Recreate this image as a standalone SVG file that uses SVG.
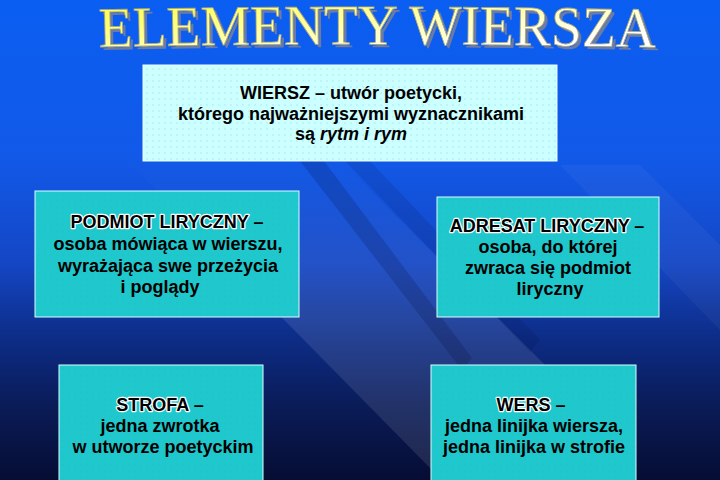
<svg xmlns="http://www.w3.org/2000/svg" width="720" height="480" viewBox="0 0 720 480">
<defs>
<linearGradient id="bg" x1="0" y1="0" x2="0" y2="1">
<stop offset="0" stop-color="#0a5ef2"/>
<stop offset="0.33" stop-color="#1259e8"/>
<stop offset="0.55" stop-color="#1446c4"/>
<stop offset="0.7" stop-color="#0d2d88"/>
<stop offset="0.85" stop-color="#0a1b56"/>
<stop offset="1" stop-color="#060d34"/>
</linearGradient>
<linearGradient id="band" gradientUnits="userSpaceOnUse" x1="0" y1="160" x2="0" y2="320">
<stop offset="0" stop-color="#ffffff" stop-opacity="0"/>
<stop offset="1" stop-color="#ffffff" stop-opacity="0.1"/>
</linearGradient>
<linearGradient id="gold" x1="0" y1="0" x2="1" y2="1">
<stop offset="0" stop-color="#ffff30"/>
<stop offset="0.45" stop-color="#ffffa8"/>
<stop offset="0.8" stop-color="#ffffff"/>
</linearGradient>
<pattern id="dots" width="6" height="6" patternUnits="userSpaceOnUse">
<circle cx="3" cy="3" r="0.7" fill="#4c9cb4" opacity="0.3"/>
</pattern>
<path id="arc" d="M0,47 Q300,41 600,48"/>
<style>
.box{fill:#1ec8cc;stroke:#d8ffff;stroke-width:1}
.top{fill:#ccffff;stroke:#e8ffff;stroke-width:1}
.dot{fill:url(#dots);stroke:none}
.t{font-family:"Liberation Sans",Arial,sans-serif;font-weight:bold;font-size:18px;fill:#000;text-anchor:middle}
.h{stroke:#ffffff;stroke-width:2.4;paint-order:stroke;stroke-linejoin:round}
.title{font-family:"Liberation Serif","Times New Roman",serif;font-size:57px}
</style>
</defs>

<rect x="0" y="0" width="720" height="480" fill="url(#bg)"/>
<g id="stripes">
<polygon points="117,150 330,150 545,365 432,470" fill="url(#band)"/>
<polygon points="300,161 324,161 472,358 462,370" fill="#000020" opacity="0.16"/>
<polygon points="345,161 370,161 540,340 530,352" fill="#000020" opacity="0.1"/>
<polygon points="560,165 640,165 720,245 720,330" fill="#ffffff" opacity="0.04"/>
</g>

<g id="title">
<g transform="translate(102,3) scale(0.974,1)">
<text class="title" fill="#6c7aa6"><textPath href="#arc">ELEMENTY WIERSZA</textPath></text>
</g>
<g transform="translate(99,0) scale(0.974,1)">
<text class="title" fill="url(#gold)" stroke="#a8a880" stroke-width="0.8"><textPath href="#arc">ELEMENTY WIERSZA</textPath></text>
</g>
</g>

<g id="wiersz">
<rect class="top" x="143" y="65" width="414" height="96"/>
<rect class="dot" x="143" y="65" width="414" height="96"/>
<text class="t" x="351" y="99">WIERSZ – utwór poetycki,</text>
<text class="t" x="351" y="120">którego najważniejszymi wyznacznikami</text>
<text class="t" x="351" y="140">są <tspan font-style="italic">rytm i rym</tspan></text>
</g>

<g id="podmiot">
<rect class="box" x="35" y="191" width="264" height="126"/>
<rect class="dot" x="35" y="191" width="264" height="126"/>
<text class="t" x="167" y="228"><tspan class="h">PODMIOT LIRYCZNY</tspan> –</text>
<text class="t" x="168" y="250">osoba mówiąca w wierszu,</text>
<text class="t" x="168" y="272">wyrażająca swe przeżycia</text>
<text class="t" x="160" y="293">i poglądy</text>
</g>

<g id="adresat">
<rect class="box" x="437" y="197" width="222" height="120"/>
<rect class="dot" x="437" y="197" width="222" height="120"/>
<text class="t" x="547" y="232"><tspan class="h">ADRESAT LIRYCZNY</tspan> –</text>
<text class="t" x="548" y="253">osoba, do której</text>
<text class="t" x="548" y="274">zwraca się podmiot</text>
<text class="t" x="550" y="295">liryczny</text>
</g>

<g id="strofa">
<rect class="box" x="59" y="365" width="204" height="125"/>
<rect class="dot" x="59" y="365" width="204" height="125"/>
<text class="t" x="160" y="411"><tspan class="h">STROFA</tspan> –</text>
<text class="t" x="160" y="432">jedna zwrotka</text>
<text class="t" x="163" y="453">w utworze poetyckim</text>
</g>

<g id="wers">
<rect class="box" x="431" y="365" width="205" height="125"/>
<rect class="dot" x="431" y="365" width="205" height="125"/>
<text class="t" x="531" y="411"><tspan class="h">WERS</tspan> –</text>
<text class="t" x="534" y="432">jedna linijka wiersza,</text>
<text class="t" x="534" y="453">jedna linijka w strofie</text>
</g>

<g id="connectors"></g>
</svg>
